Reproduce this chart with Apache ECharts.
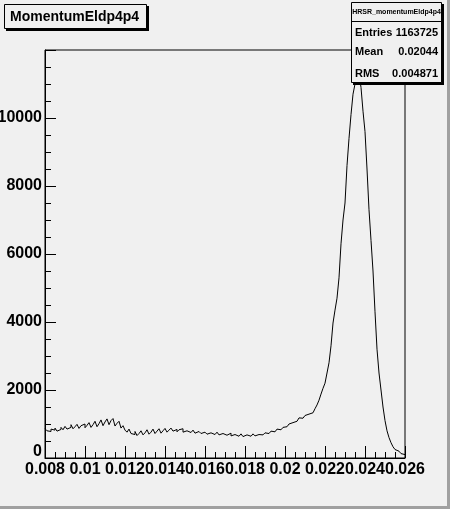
<!DOCTYPE html>
<html>
<head>
<meta charset="utf-8">
<script src="https://cdn.jsdelivr.net/npm/echarts@6/dist/echarts.min.js"></script>
<style>html,body{margin:0;padding:0;background:#f0f0f0;}#c{width:450px;height:509px;}</style>
</head>
<body>
<div id="c"></div>
<script>
// Histogram: MomentumEldp4p4, 180 bins from 0.008 to 0.026
const histTitle = 'MomentumEldp4p4';
const statsName = 'HRSR_momentumEldp4p4';
const statsLabels = ['Entries', 'Mean', 'RMS'];
const statsValues = ['1163725', '0.02044', '0.004871'];
const xMin = 0.008;
const xMax = 0.026;
const binWidth = 0.0001;
const counts = [
  860, 800, 780, 850, 820, 880, 790, 840, 900, 830,
  930, 850, 900, 980, 860, 920, 990, 870, 950, 1000,
  890, 960, 1040, 900, 980, 1080, 920, 1010, 1120, 950,
  1060, 1150, 980, 1100, 1160, 940, 1020, 1080, 880, 950,
  820, 760, 850, 720, 690, 780, 660, 720, 800, 680,
  740, 830, 700, 760, 850, 720, 790, 860, 730, 800,
  870, 760, 820, 880, 790, 840, 770, 830, 860, 760,
  800, 840, 750, 790, 820, 730, 780, 800, 720, 760,
  780, 700, 740, 770, 690, 730, 760, 680, 720, 740,
  670, 710, 730, 650, 690, 720, 640, 680, 710, 630,
  680, 700, 640, 670, 710, 650, 690, 700, 680, 710,
  740, 720, 760, 790, 770, 820, 850, 830, 870, 900,
  920, 960, 1000, 1040, 1030, 1080, 1130, 1180, 1170, 1220,
  1250, 1290, 1320, 1330, 1380, 1450, 1560, 1700, 1880, 2050,
  2200, 2500, 2800, 3300, 3970, 4350, 4700, 5300, 6300, 7000,
  7500, 8600, 9400, 10100, 10700, 11000, 11400, 11300, 10900, 10200,
  9600, 8500, 7300, 6400, 5500, 4300, 3200, 2500, 2000, 1500,
  1100, 800, 600, 450, 330, 250, 200, 160, 130, 100
];
const yMax = 12000;
const yInterval = 2000;
const xInterval = 0.002;

// build step points at bin edges
const pts = counts.map((v, i) => [xMin + i * binWidth, v]);
pts.push([xMax, counts[counts.length - 1]]);

const FONT = 'Liberation Sans, Arial, Helvetica, sans-serif';
const chart = echarts.init(document.getElementById('c'), null, {renderer: 'canvas'});
chart.setOption({
  animation: false,
  backgroundColor: '#f0f0f0',
  title: {
    text: histTitle, left: 10, top: 10, padding: 0,
    textStyle: {fontFamily: FONT, fontWeight: 'bold', fontSize: 14, color: '#000'}
  },
  grid: {left: 45, top: 50, right: 45, bottom: 51, outerBoundsMode: 'none', containLabel: false,
         show: true, borderColor: '#000', borderWidth: 1, backgroundColor: 'transparent'},
  xAxis: {
    type: 'value', min: xMin, max: xMax, interval: xInterval,
    axisLine: {show: true, onZero: false, lineStyle: {color: '#000', width: 1}},
    axisTick: {show: true, inside: true, length: 12, lineStyle: {color: '#000'}},
    minorTick: {show: true, splitNumber: 4, length: 6, lineStyle: {color: '#000'}},
    splitLine: {show: false},
    axisLabel: {
      margin: 4, color: '#000', fontFamily: FONT, fontWeight: 'bold', fontSize: 16,
      showMaxLabel: true, showMinLabel: true, hideOverlap: false,
      formatter: v => String(parseFloat(v.toFixed(4)))
    }
  },
  yAxis: {
    type: 'value', min: 0, max: yMax, interval: yInterval,
    axisLine: {show: true, lineStyle: {color: '#000', width: 1}},
    axisTick: {show: true, inside: true, length: 11, lineStyle: {color: '#000'}},
    minorTick: {show: true, splitNumber: 4, length: 6, lineStyle: {color: '#000'}},
    splitLine: {show: false},
    axisLabel: {
      margin: 3, color: '#000', fontFamily: FONT, fontWeight: 'bold', fontSize: 16,
      showMaxLabel: false,
      formatter: v => v === 0 ? '{z|0}' : String(v),
      rich: {z: {fontFamily: FONT, fontWeight: 'bold', fontSize: 16, color: '#000', padding: [0, 0, 12, 0]}}
    }
  },
  series: [{
    type: 'line', step: 'end', data: pts, showSymbol: false, symbol: 'none',
    lineStyle: {color: '#000', width: 1}, z: 3
  }],
  graphic: [
    // outer canvas bevel
    {type: 'rect', shape: {x: 447, y: 0, width: 3, height: 509}, style: {fill: '#a0a0a0'}, z: 1, silent: true},
    {type: 'rect', shape: {x: 0, y: 506, width: 450, height: 3}, style: {fill: '#a0a0a0'}, z: 1, silent: true},
    // title box
    {type: 'rect', shape: {x: 6, y: 6, width: 143, height: 25}, style: {fill: '#000'}, z: 5, silent: true},
    {type: 'rect', shape: {x: 4.5, y: 4.5, width: 142, height: 24}, style: {fill: '#f0f0f0', stroke: '#000', lineWidth: 1}, z: 6, silent: true},
    // stats box
    {type: 'rect', shape: {x: 353, y: 4, width: 91, height: 81}, style: {fill: '#000'}, z: 20, silent: true},
    {type: 'rect', shape: {x: 351.5, y: 2.5, width: 90, height: 80}, style: {fill: '#f0f0f0', stroke: '#000', lineWidth: 1}, z: 21, silent: true},
    {type: 'line', shape: {x1: 351.5, y1: 21.5, x2: 441.5, y2: 21.5}, style: {stroke: '#000', lineWidth: 1}, z: 22, silent: true},
    {type: 'text', x: 396.5, y: 12, style: {text: statsName, font: 'bold 7px ' + FONT, fill: '#000', align: 'center', verticalAlign: 'middle'}, z: 22, silent: true},
    {type: 'text', x: 355, y: 33, style: {text: statsLabels[0], font: 'bold 11px ' + FONT, fill: '#000', align: 'left', verticalAlign: 'middle'}, z: 22, silent: true},
    {type: 'text', x: 438, y: 33, style: {text: statsValues[0], font: 'bold 11px ' + FONT, fill: '#000', align: 'right', verticalAlign: 'middle'}, z: 22, silent: true},
    {type: 'text', x: 355, y: 52, style: {text: statsLabels[1], font: 'bold 11px ' + FONT, fill: '#000', align: 'left', verticalAlign: 'middle'}, z: 22, silent: true},
    {type: 'text', x: 438, y: 52, style: {text: statsValues[1], font: 'bold 11px ' + FONT, fill: '#000', align: 'right', verticalAlign: 'middle'}, z: 22, silent: true},
    {type: 'text', x: 355, y: 74, style: {text: statsLabels[2], font: 'bold 11px ' + FONT, fill: '#000', align: 'left', verticalAlign: 'middle'}, z: 22, silent: true},
    {type: 'text', x: 438, y: 74, style: {text: statsValues[2], font: 'bold 11px ' + FONT, fill: '#000', align: 'right', verticalAlign: 'middle'}, z: 22, silent: true}
  ]
});
</script>
</body>
</html>
